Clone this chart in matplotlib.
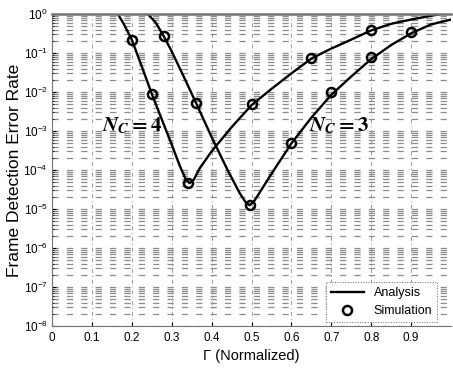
import matplotlib
matplotlib.use("Agg")
from matplotlib import pyplot as plt
from matplotlib.ticker import LogLocator, NullFormatter, FixedLocator

# analysis curves
gamma_nc4 = [0.165, 0.18, 0.20, 0.225, 0.25, 0.275, 0.30, 0.32, 0.335, 0.345, 0.355, 0.37,
             0.40, 0.45, 0.50, 0.55, 0.60, 0.65, 0.70, 0.75, 0.80, 0.85, 0.90, 0.95, 0.975]
err_nc4 = [1.0, 0.55, 0.22, 0.045, 9e-3, 2.0e-3, 4.5e-4, 1.3e-4, 5.8e-5, 4.6e-5, 5.6e-5, 1.1e-4,
           3.0e-4, 1.25e-3, 4.6e-3, 1.2e-2, 3.0e-2, 7.2e-2, 0.13, 0.22, 0.38, 0.56, 0.72, 0.9, 1.0]

gamma_nc3 = [0.24, 0.26, 0.28, 0.30, 0.33, 0.36, 0.40, 0.44, 0.47, 0.485, 0.495, 0.505, 0.52,
             0.55, 0.60, 0.65, 0.70, 0.75, 0.80, 0.85, 0.90, 0.95, 1.0]
err_nc3 = [1.0, 0.6, 0.27, 0.11, 0.025, 5.5e-3, 7e-4, 1e-4, 2.6e-5, 1.5e-5, 1.25e-5, 1.5e-5, 2.6e-5,
           8e-5, 4.8e-4, 2.2e-3, 8.5e-3, 2.5e-2, 7.0e-2, 0.16, 0.32, 0.54, 0.72]

# simulation points
sim_g4 = [0.20, 0.25, 0.34, 0.50, 0.65, 0.80]
sim_e4 = [0.22, 9e-3, 4.6e-5, 5.0e-3, 7.5e-2, 0.40]
sim_g3 = [0.28, 0.36, 0.495, 0.60, 0.70, 0.80, 0.90]
sim_e3 = [0.27, 5.2e-3, 1.25e-5, 5.0e-4, 1.0e-2, 7.7e-2, 0.34]

xticks = [0, 0.1, 0.2, 0.3, 0.4, 0.5, 0.6, 0.7, 0.8, 0.9]

plt.rcParams['font.family'] = ['Liberation Sans', 'DejaVu Sans']
plt.rcParams['mathtext.fontset'] = 'stix'

fig = plt.figure(figsize=(4.53, 3.68), dpi=100)
ax = fig.add_axes([0.1148, 0.1141, 0.8808, 0.8479])

ax.plot(gamma_nc4, err_nc4, color='black', linewidth=1.7, label='Analysis')
ax.plot(gamma_nc3, err_nc3, color='black', linewidth=1.7)
ax.plot(sim_g4, sim_e4, 'o', mfc='none', mec='black', mew=1.8, ms=6.5, label='Simulation')
ax.plot(sim_g3, sim_e3, 'o', mfc='none', mec='black', mew=1.8, ms=6.5)

ax.set_yscale('log')
ax.set_ylim(1e-8, 1)
ax.set_xlim(0, 1)
ax.yaxis.set_major_locator(LogLocator(base=10, numticks=20))
ax.yaxis.set_minor_locator(LogLocator(base=10, subs=range(2, 10), numticks=20))
ax.yaxis.set_minor_formatter(NullFormatter())
ax.xaxis.set_major_locator(FixedLocator(xticks))
ax.set_xticklabels([f"{t:g}" for t in xticks])

ax.grid(True, which='both', axis='y', linestyle=(0, (5, 6.5)), color='0.55', linewidth=0.9)
ax.grid(True, which='major', axis='x', linestyle=(0, (4, 3, 1, 3)), color='0.6', linewidth=0.7)
ax.set_axisbelow(True)

ax.tick_params(direction='in', labelsize=8.5, length=3, pad=4)
ax.tick_params(axis='y', pad=3)
ax.tick_params(which='minor', direction='in', length=1.5)
for s in ['left', 'bottom', 'top']:
    ax.spines[s].set_color('0.45')
    ax.spines[s].set_linewidth(0.8)
ax.spines['top'].set_linewidth(1.8)
ax.spines['right'].set_visible(False)

ax.set_xlabel('Γ (Normalized)', fontsize=10.5, labelpad=4)
ax.set_ylabel('Frame Detection Error Rate', fontsize=12.5, labelpad=1)

ax.text(0.2, 1.4e-3, r'$\mathbfit{N}_{\mathbfit{C}}\mathbf{=4}$', fontsize=15, ha='center', va='center')
ax.text(0.72, 1.35e-3, r'$\mathbfit{N}_{\mathbfit{C}}\mathbf{=3}$', fontsize=15, ha='center', va='center')

leg = ax.legend(loc='lower right', bbox_to_anchor=(0.975, 0.0), fontsize=9, frameon=True,
                fancybox=False, edgecolor='0.4', framealpha=1, handlelength=2.6,
                borderaxespad=0.3, labelspacing=0.5)
leg.get_frame().set_linewidth(0.7)
leg.get_frame().set_linestyle(':')

fig.savefig('out.png', dpi=100)
